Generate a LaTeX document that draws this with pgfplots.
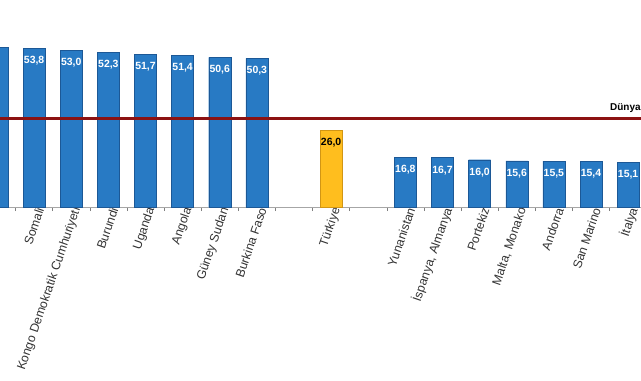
\documentclass[border=0pt]{standalone}
\usepackage{pgfplots}
\pgfplotsset{compat=1.18}
\usepackage{fontspec}
\setmainfont{Liberation Sans}
\definecolor{barblue}{RGB}{40,122,196}
\definecolor{baredge}{RGB}{28,88,150}
\definecolor{baryellow}{RGB}{255,190,30}
\definecolor{baryedge}{RGB}{210,150,20}
\definecolor{worldred}{RGB}{140,18,18}
\begin{document}
\begin{tikzpicture}[x=1bp,y=1bp]
\useasboundingbox (0,0) rectangle (641,380);
\clip (0,0) rectangle (641,380);
\begin{axis}[
  at={(0bp,173bp)}, anchor=south west,
  width=641bp, height=177.3bp, scale only axis,
  xmin=0.081, xmax=17.347, ymin=0, ymax=60,
  axis y line=none, axis x line*=bottom,
  axis line style={gray!70, line width=0.8bp},
  xtick={0,1,2,3,4,5,6,7,9,11,12,13,14,15,16,17},
  xticklabels={Mali,Somali,Kongo Demokratik Cumhuriyeti,Burundi,Uganda,Angola,Güney Sudan,Burkina Faso,Türkiye,Yunanistan,{İspanya, Almanya},Portekiz,{Malta, Monako},Andorra,San Marino,İtalya},
  minor xtick={0.5,1.5,2.5,3.5,4.5,5.5,6.5,7.5,8.5,9.5,10.5,11.5,12.5,13.5,14.5,15.5,16.5},
  major tick length=0pt, minor tick length=4bp, tick align=outside,
  minor tick style={gray, line width=0.6bp},
  xticklabel style={rotate=71, anchor=east, inner sep=1bp, xshift=2bp, yshift=-6bp, font=\fontsize{12.4}{14}\selectfont, text=black!80},
]
\addplot[ybar, bar shift=0pt, bar width=22bp, fill=barblue, draw=baredge,
  nodes near coords={\pgfmathprintnumber[fixed,fixed zerofill,precision=1,use comma,assume math mode=true]{\pgfplotspointmeta}},
  every node near coord/.append style={anchor=north, yshift=-8bp, inner sep=0pt, text=white, font=\bfseries\fontsize{10.5}{12}\selectfont}]
  coordinates {(0,54.0) (1,53.8) (2,53.0) (3,52.3) (4,51.7) (5,51.4) (6,50.6) (7,50.3)
               (11,16.8) (12,16.7) (13,16.0) (14,15.6) (15,15.5) (16,15.4) (17,15.1)};
\addplot[ybar, bar shift=0pt, bar width=22bp, fill=baryellow, draw=baryedge,
  nodes near coords={\pgfmathprintnumber[fixed,fixed zerofill,precision=1,use comma,assume math mode=true]{\pgfplotspointmeta}},
  every node near coord/.append style={anchor=north, yshift=-8bp, inner sep=0pt, text=black, font=\bfseries\fontsize{10.5}{12}\selectfont}]
  coordinates {(9,26.0)};
\addplot[worldred, line width=2.8bp, sharp plot, no marks] coordinates {(-1,30.0) (19,30.0)};
\node[anchor=west, inner sep=0pt, font=\bfseries\fontsize{10}{12}\selectfont] at (axis cs:16.51,33.4) {Dünya};
\end{axis}
\end{tikzpicture}
\end{document}
